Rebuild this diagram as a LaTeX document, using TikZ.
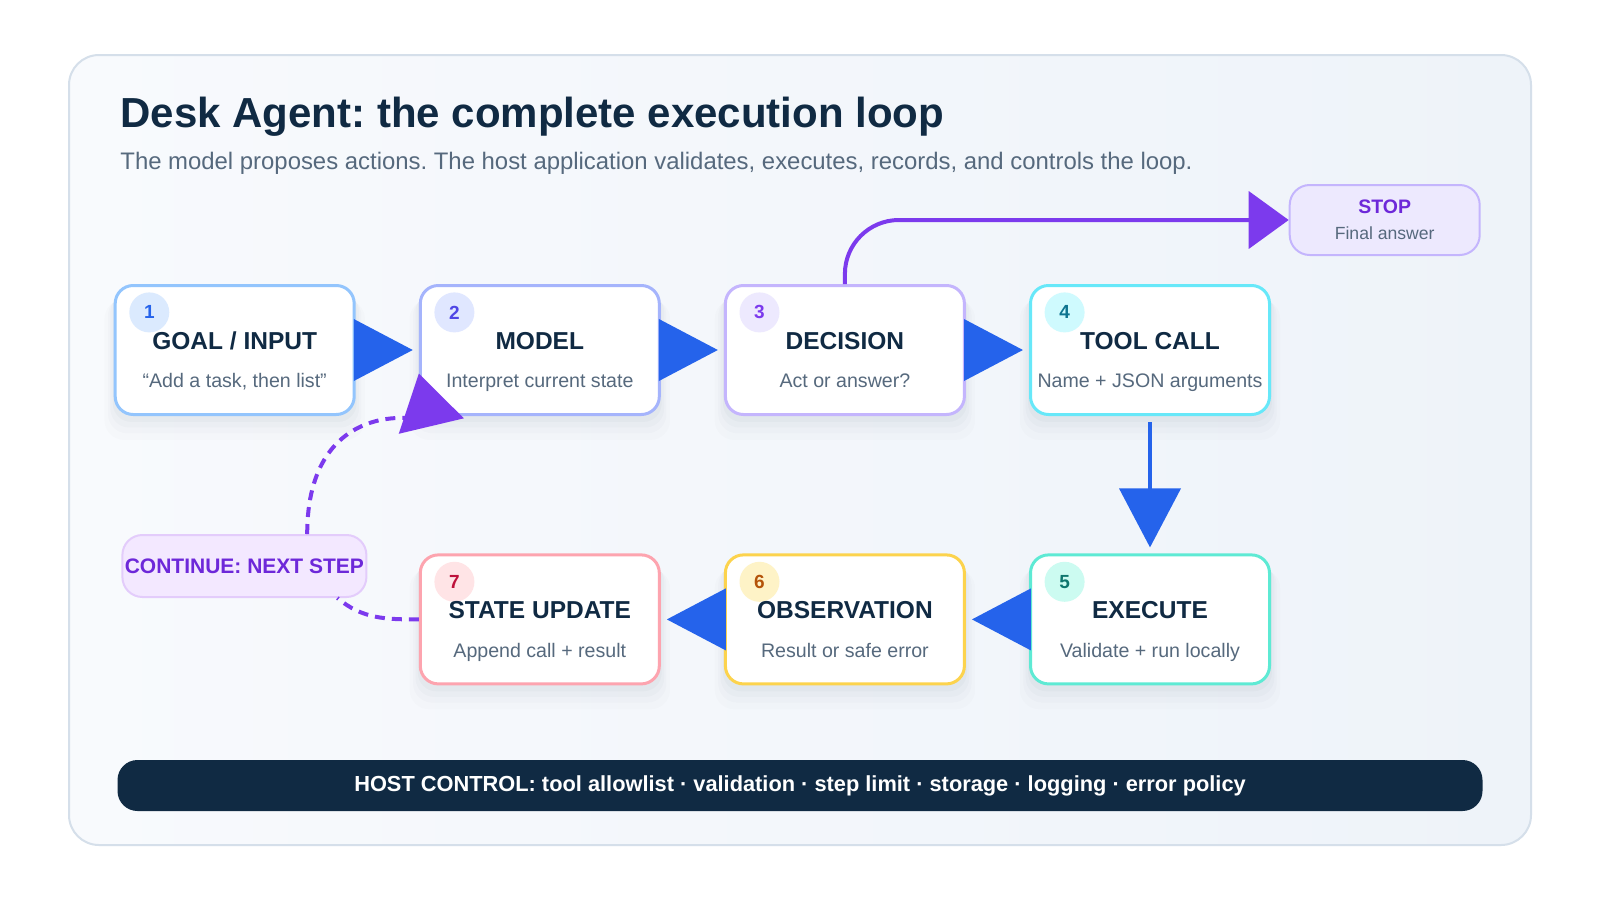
\documentclass[tikz,border=0pt]{standalone}
\usepackage{fontspec}
\setmainfont{Liberation Sans}
\usetikzlibrary{arrows.meta, positioning, shadows}
\frenchspacing

\definecolor{ink}{HTML}{102A43}
\definecolor{muted}{HTML}{56697D}
\definecolor{flow}{HTML}{2563EB}
\definecolor{loopc}{HTML}{7C3AED}
\definecolor{loopdark}{HTML}{6D28D9}
\definecolor{contfill}{HTML}{F3E8FF}
\definecolor{contedge}{HTML}{E3CCFB}
\definecolor{panelA}{HTML}{F8FAFD}
\definecolor{panelB}{HTML}{EEF3F9}
\definecolor{panelEdge}{HTML}{D5DFEA}
% step colours: border, badge, number
\definecolor{brd1}{HTML}{93C5FD}\definecolor{bdg1}{HTML}{DBEAFE}\definecolor{num1}{HTML}{2563EB}
\definecolor{brd2}{HTML}{A5B4FC}\definecolor{bdg2}{HTML}{E0E7FF}\definecolor{num2}{HTML}{4F46E5}
\definecolor{brd3}{HTML}{C4B5FD}\definecolor{bdg3}{HTML}{EDE9FE}\definecolor{num3}{HTML}{7C3AED}
\definecolor{brd4}{HTML}{67E8F9}\definecolor{bdg4}{HTML}{CFFAFE}\definecolor{num4}{HTML}{0E7490}
\definecolor{brd5}{HTML}{5EEAD4}\definecolor{bdg5}{HTML}{CCFBF1}\definecolor{num5}{HTML}{0F766E}
\definecolor{brd6}{HTML}{FCD34D}\definecolor{bdg6}{HTML}{FEF3C7}\definecolor{num6}{HTML}{B45309}
\definecolor{brd7}{HTML}{FDA4AF}\definecolor{bdg7}{HTML}{FFE4E6}\definecolor{num7}{HTML}{BE123C}

\begin{document}
\begin{tikzpicture}[x=0.5pt, y=-0.5pt,
  stepbox/.style={draw, line width=1.5pt, rounded corners=9pt, fill=white,
    minimum width=119.5pt, minimum height=64.5pt, inner sep=0pt,
    general shadow={fill=ink, opacity=.012, shadow yshift=-9pt, shadow scale=1.09},
    general shadow={fill=ink, opacity=.016, shadow yshift=-7pt, shadow scale=1.06},
    general shadow={fill=ink, opacity=.02, shadow yshift=-5pt, shadow scale=1.04},
    general shadow={fill=ink, opacity=.025, shadow yshift=-3pt, shadow scale=1.02}},
  badge/.style={circle, minimum size=20pt, inner sep=0pt,
    font=\fontsize{9.5}{11}\selectfont\bfseries},
  headtext/.style={anchor=base, inner sep=0pt, text=ink,
    font=\fontsize{12.25}{14}\selectfont\bfseries},
  subtext/.style={anchor=base, inner sep=0pt, text=muted,
    font=\fontsize{9.8}{12}\selectfont},
  flowarrow/.style={flow, line width=2pt, shorten >=3pt,
    -{Triangle[length=29.5pt, width=30.5pt]}},
  loopline/.style={loopc, line width=2pt, dash pattern=on 5pt off 3.5pt},
  tagbox/.style={draw, line width=1pt, rounded corners=10pt, inner sep=0pt}]

\useasboundingbox (0,0) rectangle (1600,900);
\fill[white] (0,0) rectangle (1600,900);
\draw[panelEdge, line width=1pt, rounded corners=15pt, left color=panelA, right color=panelB]
  (69,55) rectangle (1531,845);

\node[anchor=base west, inner sep=0pt, text=ink, font=\fontsize{21}{25}\selectfont\bfseries]
  (title) at (120,127) {Desk Agent: the complete execution loop};
\node[anchor=base west, inner sep=0pt, text=muted, font=\fontsize{11.95}{14}\selectfont]
  (lede) at (120,169.4) {The model proposes actions. The host application validates, executes, records, and controls the loop.};

% the seven steps
\foreach \n/\x/\y/\head/\sub in {
  1/234.7/350/{GOAL / INPUT}/{“Add a task, then list”},
  2/539.8/350/MODEL/Interpret current state,
  3/844.9/350/DECISION/Act or answer?,
  4/1150/350/TOOL CALL/Name + JSON arguments,
  5/1150/619.4/EXECUTE/Validate + run locally,
  6/844.9/619.4/OBSERVATION/Result or safe error,
  7/539.8/619.4/STATE UPDATE/Append call + result}{
  \node[stepbox, draw=brd\n] (s\n) at (\x,\y) {};
  \node[badge, fill=bdg\n, text=num\n] (b\n) at ([xshift=17.8pt, yshift=-14.2pt]s\n.north west) {\n};
  \node[headtext] (h\n) at ([yshift=0.5pt]s\n.center) {\head};
  \node[subtext] (d\n) at ([yshift=-18.9pt]s\n.center) {\sub};
}

% stop and continue tags
\node[tagbox, draw=brd3, fill=bdg3, minimum width=95pt, minimum height=35pt] (stop) at (1384.7,220) {};
\node[anchor=base, inner sep=0pt, text=loopdark, font=\fontsize{9.75}{12}\selectfont\bfseries]
  (stopt) at (1384.7,213.3) {STOP};
\node[anchor=base, inner sep=0pt, text=muted, font=\fontsize{8.8}{11}\selectfont]
  (stopd) at (1384.7,239.8) {Final answer};
\node[tagbox, draw=contedge, fill=contfill, minimum width=122pt, minimum height=31pt,
  text=loopdark, font=\fontsize{10.5}{12}\selectfont\bfseries] (cont) at (244.4,566) {CONTINUE: NEXT STEP};

% host bar
\node[rounded corners=10pt, fill=ink, minimum width=682.5pt, minimum height=25.5pt, text=white,
  font=\fontsize{10.9}{13}\selectfont\bfseries] (host) at (800,785.5)
  {HOST CONTROL: tool allowlist · validation · step limit · storage · logging · error policy};

% main flow
\draw[flowarrow] (s1) -- (s2);
\draw[flowarrow] (s2) -- (s3);
\draw[flowarrow] (s3) -- (s4);
\draw[flowarrow, shorten <=3pt] (s4) -- (s5);
\draw[flowarrow] (s5) -- (s6);
\draw[flowarrow] (s6) -- (s7);

% exit and loop back
\draw[loopc, line width=2pt, rounded corners=27pt, -{Triangle[length=20pt, width=28.5pt]}]
  (s3.north) |- (stop.west);
\draw[loopline] (s7.west) to[out=180, in=-40] (cont.-19);
\draw[loopline, -{Triangle[length=27pt, width=33pt]}]
  (cont.27) .. controls +(0,-140) and +(10,42) .. (s2.191);
\end{tikzpicture}
\end{document}
